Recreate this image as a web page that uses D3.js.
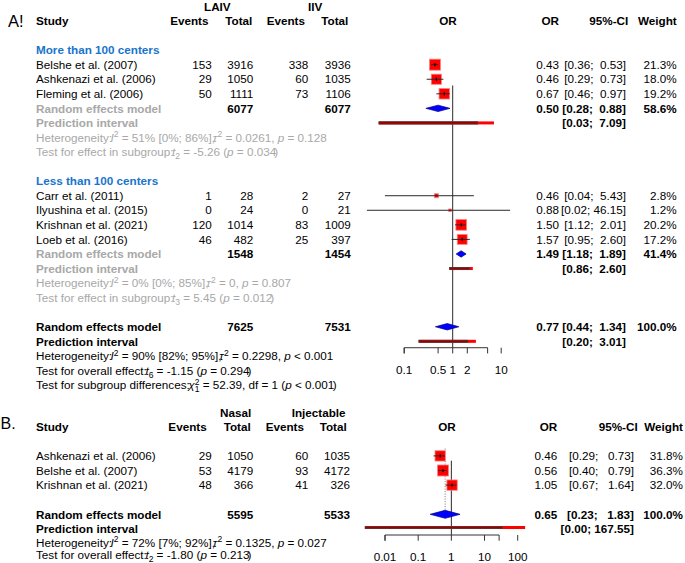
<!DOCTYPE html>
<html><head><meta charset="utf-8">
<script src="https://cdn.jsdelivr.net/npm/d3@7"></script>
<style>
html,body{margin:0;padding:0;background:#fff;}
svg text{font-family:'Liberation Sans',Arial,Helvetica,sans-serif;white-space:pre;}
</style>
</head><body>
<svg id="chart" width="685" height="563"></svg>
<script>
// ---------- Panel A data ----------
const studiesA = ["Belshe et al. (2007)", "Ashkenazi et al. (2006)", "Fleming et al. (2006)",
                  "Carr et al. (2011)", "Ilyushina et al. (2015)", "Krishnan et al. (2021)", "Loeb et al. (2016)"];
const groupOfA = [0, 0, 0, 1, 1, 1, 1];
const evLaiv  = [153, 29, 50, 1, 0, 120, 46];
const totLaiv = [3916, 1050, 1111, 28, 24, 1014, 482];
const evIiv   = [338, 60, 73, 2, 0, 83, 25];
const totIiv  = [3936, 1035, 1106, 27, 21, 1009, 397];
const orA = [0.43, 0.46, 0.67, 0.46, 0.88, 1.50, 1.57];
const loA = [0.36, 0.29, 0.46, 0.04, 0.017, 1.12, 0.95];
const hiA = [0.53, 0.73, 0.97, 5.43, 46.15, 2.01, 2.60];
const wA  = [21.3, 18.0, 19.2, 2.8, 1.2, 20.2, 17.2];

const subgroupNames = ["More than 100 centers", "Less than 100 centers"];
const subTotLaiv = [6077, 1548];
const subTotIiv  = [6077, 1454];
const subOR = [0.50, 1.49];
const subLo = [0.28, 1.18];
const subHi = [0.88, 1.89];
const subW  = [58.6, 41.4];
const subPiLo = [0.03, 0.86];
const subPiHi = [7.09, 2.60];
const subI2   = ["51%", "0%"];
const subI2ci = ["[0%; 86%]", "[0%; 85%]"];
const subTau2 = ["0.0261", "0"];
const subHetP = ["= 0.128", "= 0.807"];
const subTdf  = ["2", "3"];
const subT    = ["-5.26", "5.45"];
const subTp   = ["0.034", "0.012"];

const allTotLaiv = 7625, allTotIiv = 7531;
const allOR = [0.77, 0.44, 1.34], allW = 100.0;
const allPI = [0.20, 3.01];
const allHet = ["90%", "[82%; 95%]", "0.2298", "< 0.001"];
const allTest = ["6", "-1.15", "0.294"];
const subDiff = ["52.39", "1", "< 0.001"];
const ticksA = [0.1, 0.5, 1, 2, 10];
const tickLabelsA = ["0.1", "0.5", "1", "2", "10"];

// ---------- Panel B data ----------
const studiesB = ["Ashkenazi et al. (2006)", "Belshe et al. (2007)", "Krishnan et al. (2021)"];
const evNasal  = [29, 53, 48];
const totNasal = [1050, 4179, 366];
const evInj    = [60, 93, 41];
const totInj   = [1035, 4172, 326];
const orB = [0.46, 0.56, 1.05];
const loB = [0.29, 0.40, 0.67];
const hiB = [0.73, 0.79, 1.64];
const wB  = [31.8, 36.3, 32.0];
const bTotNasal = 5595, bTotInj = 5533;
const bOR = [0.65, 0.23, 1.83], bW = 100.0;
const bPI = [0.0025, 167.55];
const bHet = ["72%", "[7%; 92%]", "0.1325", "= 0.027"];
const bTest = ["2", "-1.80", "0.213"];
const ticksB = [0.01, 0.1, 1, 10, 100];
const tickLabelsB = ["0.01", "0.1", "1", "10", "100"];
const TAU = "\u03C4";

// ---------- drawing ----------
const svg = d3.select("#chart");
svg.append("rect").attr("width", 685).attr("height", 563).attr("fill", "#fff");
const FS = 11.7, BASE = 4.2, SHRINK = 0.86;
const GRAY = "#a8a8a8", BLUE = "#1874cd", LINE = "#2a2a2a";

function txt(g, x, y, s, o = {}) {
  return g.append("text").attr("x", x).attr("y", y + BASE).text(s)
    .attr("text-anchor", o.anchor || "start").attr("fill", o.fill || "#000")
    .style("font-size", (o.size || FS) + "px").style("font-weight", o.bold ? "bold" : "normal");
}
// each part becomes its own text, placed after the previous one's measured width
function math(g, x, y, parts, fill) {
  let cx = x;
  parts.forEach(p => {
    const [s, kind, dx] = p;
    const shift = kind === "sup" ? -4.5 : kind === "sub" ? 3 : 0;
    cx += dx || 0;
    const t = g.append("text").attr("x", cx).attr("y", y + BASE + shift).attr("fill", fill)
      .style("font-size", (kind === "sup" || kind === "sub") ? "8.5px" : FS + "px").text(s);
    if (kind === "i") t.style("font-style", "italic");
    const w = t.node().getComputedTextLength();
    cx += (w > 0 ? w : s.length * 6);
  });
}
const f2 = v => v.toFixed(2);
const ciStr = (lo, hi, pad) => "[" + f2(lo) + "; " + f2(hi).padStart(pad) + "]";
const hetParts = (i2, ci, tau, p) => [["Heterogeneity:"], ["I", "i", -1.5], ["2", "sup"],
  [" = " + i2 + " " + ci + ","], [TAU, "i", -2.2], ["2", "sup", 0.3], [" = " + tau + ", "], ["p", "i"], [" " + p]];

function drawStudy(g, x, y, or, lo, hi, w, maxW) {
  const side = 11 * Math.sqrt(w / maxW);
  const x1 = x(lo), x2 = x1 + SHRINK * (x(hi) - x1);
  g.append("rect").attr("x", x(or) - side / 2).attr("y", y - side / 2)
    .attr("width", side).attr("height", side).attr("fill", "#ff0000")
    .attr("stroke", "#ff8080").attr("stroke-width", 0.8);
  g.append("line").attr("x1", x1).attr("x2", x2).attr("y1", y).attr("y2", y)
    .attr("stroke", LINE).attr("stroke-width", 1);
  if (side > 6) g.append("line").attr("x1", x(or)).attr("x2", x(or))
    .attr("y1", y - 1.6).attr("y2", y + 1.6).attr("stroke", "#000").attr("stroke-width", 1);
}
function drawDiamond(g, x, y, or, lo, hi, h) {
  g.append("polygon")
    .attr("points", [[x(lo), y], [x(or), y - h], [x(hi), y], [x(or), y + h]].map(p => p.join(",")).join(" "))
    .attr("fill", "#0000ff").attr("stroke", "#000080").attr("stroke-width", 0.7);
}
function drawPI(g, x, y, lo, hi) {
  const a = x(lo), b = x(hi);
  g.append("rect").attr("x", a).attr("y", y - 1.5).attr("width", b - a).attr("height", 3).attr("fill", "#ff0000");
  g.append("rect").attr("x", a).attr("y", y - 1.2).attr("width", SHRINK * (b - a)).attr("height", 2.4)
    .attr("fill", "#9a0000").attr("stroke", "#444").attr("stroke-width", 0.6);
}
function drawAxis(g, x, y, ticks, labels, labelY) {
  const d = ticks[0], e = ticks[ticks.length - 1];
  const x0 = x(d), xe = x0 + SHRINK * (x(e) - x0);
  g.append("path").attr("d", `M${x0},${y + 5.7}V${y}H${xe}V${y + 5.7}`)
    .attr("fill", "none").attr("stroke", "#333").attr("stroke-width", 1);
  ticks.forEach((t, i) => {
    g.append("line").attr("x1", x(t)).attr("x2", x(t)).attr("y1", y).attr("y2", y + 5.7)
      .attr("stroke", "#333").attr("stroke-width", 1);
    txt(g, x(t), labelY, labels[i], { anchor: "middle" });
  });
}
function refLine(g, xpos, yTop, yAxis) {
  g.append("line").attr("x1", xpos).attr("x2", xpos).attr("y1", yAxis)
    .attr("y2", yAxis - SHRINK * (yAxis - yTop)).attr("stroke", LINE).attr("stroke-width", 1);
}

// ===== Panel A =====
const gA = svg.append("g");
const yA = k => 21 + 14.56 * k;
const xA = d3.scaleLog().domain([0.1, 10]).range([404.2, 501.2]);
const maxWA = d3.max(wA);
const colA = { name: 36, ev1: 211.7, tot1: 253.3, ev2: 308.3, tot2: 350.7, or: 559, ci: 626, w: 676.7 };

txt(gA, 8, 26.7 - BASE, "A!", { size: 16.5 });
txt(gA, 204, 10.5 - BASE, "LAIV", { bold: true });
txt(gA, 308, 10.5 - BASE, "IIV", { bold: true });
txt(gA, 36, yA(0), "Study", { bold: true });
txt(gA, 208.5, yA(0), "Events", { bold: true, anchor: "end" });
txt(gA, 252.3, yA(0), "Total", { bold: true, anchor: "end" });
txt(gA, 305, yA(0), "Events", { bold: true, anchor: "end" });
txt(gA, 348.3, yA(0), "Total", { bold: true, anchor: "end" });
txt(gA, 448, yA(0), "OR", { bold: true, anchor: "middle" });
txt(gA, 559, yA(0), "OR", { bold: true, anchor: "end" });
txt(gA, 628.3, yA(0), "95%-CI", { bold: true, anchor: "end" });
txt(gA, 676.7, yA(0), "Weight", { bold: true, anchor: "end" });

const axisYA = yA(22) + 6.4;
refLine(gA, xA(1), yA(1.5), axisYA);

subgroupNames.forEach((nm, g) => {
  const base = 2 + 9 * g;
  txt(gA, colA.name, yA(base), nm, { bold: true, fill: BLUE });
  const idx = studiesA.map((s, i) => i).filter(i => groupOfA[i] === g);
  idx.forEach((i, j) => {
    const y = yA(base + 1 + j);
    txt(gA, colA.name, y, studiesA[i]);
    txt(gA, colA.ev1, y, String(evLaiv[i]), { anchor: "end" });
    txt(gA, colA.tot1, y, String(totLaiv[i]), { anchor: "end" });
    txt(gA, colA.ev2, y, String(evIiv[i]), { anchor: "end" });
    txt(gA, colA.tot2, y, String(totIiv[i]), { anchor: "end" });
    txt(gA, colA.or, y, f2(orA[i]), { anchor: "end" });
    txt(gA, colA.ci, y, ciStr(loA[i], hiA[i], 5), { anchor: "end" });
    txt(gA, colA.w, y, wA[i].toFixed(1) + "%", { anchor: "end" });
    drawStudy(gA, xA, y, orA[i], loA[i], hiA[i], wA[i], maxWA);
  });
  const kr = base + idx.length + 1;
  let y = yA(kr);
  txt(gA, colA.name, y, "Random effects model", { bold: true, fill: GRAY });
  txt(gA, colA.tot1, y, String(subTotLaiv[g]), { bold: true, anchor: "end" });
  txt(gA, colA.tot2, y, String(subTotIiv[g]), { bold: true, anchor: "end" });
  txt(gA, colA.or, y, f2(subOR[g]), { bold: true, anchor: "end" });
  txt(gA, colA.ci, y, ciStr(subLo[g], subHi[g], 5), { bold: true, anchor: "end" });
  txt(gA, colA.w, y, subW[g].toFixed(1) + "%", { bold: true, anchor: "end" });
  drawDiamond(gA, xA, y, subOR[g], subLo[g], subHi[g], 3.2);
  y = yA(kr + 1);
  txt(gA, colA.name, y, "Prediction interval", { bold: true, fill: GRAY });
  txt(gA, colA.ci, y, ciStr(subPiLo[g], subPiHi[g], 5), { bold: true, anchor: "end" });
  drawPI(gA, xA, y, subPiLo[g], subPiHi[g]);
  math(gA, colA.name, yA(kr + 2), hetParts(subI2[g], subI2ci[g], subTau2[g], subHetP[g]), GRAY);
  math(gA, colA.name, yA(kr + 3), [["Test for effect in subgroup:"], ["t", "i", -1.5], [subTdf[g], "sub"],
    [" = " + subT[g] + " ("], ["p", "i"], [" = " + subTp[g]], [")", "n", -2]], GRAY);
});

// overall
let yo = yA(21);
txt(gA, colA.name, yo, "Random effects model", { bold: true });
txt(gA, colA.tot1, yo, String(allTotLaiv), { bold: true, anchor: "end" });
txt(gA, colA.tot2, yo, String(allTotIiv), { bold: true, anchor: "end" });
txt(gA, colA.or, yo, f2(allOR[0]), { bold: true, anchor: "end" });
txt(gA, colA.ci, yo, ciStr(allOR[1], allOR[2], 5), { bold: true, anchor: "end" });
txt(gA, colA.w, yo, allW.toFixed(1) + "%", { bold: true, anchor: "end" });
drawDiamond(gA, xA, yo, allOR[0], allOR[1], allOR[2], 3.2);
yo = yA(22);
txt(gA, colA.name, yo, "Prediction interval", { bold: true });
txt(gA, colA.ci, yo, ciStr(allPI[0], allPI[1], 5), { bold: true, anchor: "end" });
drawPI(gA, xA, yo, allPI[0], allPI[1]);
math(gA, colA.name, yA(23), hetParts(allHet[0], allHet[1], allHet[2], allHet[3]), "#000");
math(gA, colA.name, yA(24), [["Test for overall effect:"], ["t", "i", -1.5], [allTest[0], "sub"],
  [" = " + allTest[1] + " ("], ["p", "i"], [" = " + allTest[2]], [")", "n", -2]], "#000");
math(gA, colA.name, yA(25), [["Test for subgroup differences:"], ["χ", "i", -1.5], ["2", "sup"], [subDiff[1], "sub", -4.7],
  [" = " + subDiff[0] + ", df = " + subDiff[1] + " ("], ["p", "i"], [" " + subDiff[2]], [")", "n", -1.5]], "#000");
drawAxis(gA, xA, axisYA, ticksA, tickLabelsA, yA(24) - 0.4);

// ===== Panel B =====
const gB = svg.append("g");
const yB = k => 426.7 + 14.6 * k;
const xB = d3.scaleLog().domain([0.01, 100]).range([385, 517.7]);
const maxWB = d3.max(wB);
const colB = { name: 36, ev1: 211.7, tot1: 253.3, ev2: 308.3, tot2: 350, or: 557.3, ci: 634, w: 683 };

txt(gB, 0.5, 429 - BASE, "B.", { size: 16 });
txt(gB, 220, 416.7 - BASE, "Nasal", { bold: true });
txt(gB, 291.7, 416.7 - BASE, "Injectable", { bold: true });
txt(gB, 36, yB(0), "Study", { bold: true });
txt(gB, 206.7, yB(0), "Events", { bold: true, anchor: "end" });
txt(gB, 250.7, yB(0), "Total", { bold: true, anchor: "end" });
txt(gB, 304, yB(0), "Events", { bold: true, anchor: "end" });
txt(gB, 346.7, yB(0), "Total", { bold: true, anchor: "end" });
txt(gB, 447, yB(0), "OR", { bold: true, anchor: "middle" });
txt(gB, 557.3, yB(0), "OR", { bold: true, anchor: "end" });
txt(gB, 637.7, yB(0), "95%-CI", { bold: true, anchor: "end" });
txt(gB, 683, yB(0), "Weight", { bold: true, anchor: "end" });

const axisYB = yB(7) + 6.1;
refLine(gB, xB(1), yB(1.5), axisYB);
gB.append("line").attr("x1", xB(bOR[0])).attr("x2", xB(bOR[0])).attr("y1", yB(1.5)).attr("y2", yB(6))
  .attr("stroke", "#555").attr("stroke-width", 0.8).attr("stroke-dasharray", "1,1.5");

studiesB.forEach((s, i) => {
  const y = yB(2 + i);
  txt(gB, colB.name, y, s);
  txt(gB, colB.ev1, y, String(evNasal[i]), { anchor: "end" });
  txt(gB, colB.tot1, y, String(totNasal[i]), { anchor: "end" });
  txt(gB, colB.ev2, y, String(evInj[i]), { anchor: "end" });
  txt(gB, colB.tot2, y, String(totInj[i]), { anchor: "end" });
  txt(gB, colB.or, y, f2(orB[i]), { anchor: "end" });
  txt(gB, colB.ci, y, ciStr(loB[i], hiB[i], 6), { anchor: "end" });
  txt(gB, colB.w, y, wB[i].toFixed(1) + "%", { anchor: "end" });
  drawStudy(gB, xB, y, orB[i], loB[i], hiB[i], wB[i], maxWB);
});
let yb = yB(6);
txt(gB, colB.name, yb, "Random effects model", { bold: true });
txt(gB, colB.tot1, yb, String(bTotNasal), { bold: true, anchor: "end" });
txt(gB, colB.tot2, yb, String(bTotInj), { bold: true, anchor: "end" });
txt(gB, colB.or, yb, f2(bOR[0]), { bold: true, anchor: "end" });
txt(gB, colB.ci, yb, ciStr(bOR[1], bOR[2], 6), { bold: true, anchor: "end" });
txt(gB, colB.w, yb, bW.toFixed(1) + "%", { bold: true, anchor: "end" });
drawDiamond(gB, xB, yb, bOR[0], bOR[1], bOR[2], 4);
yb = yB(7);
txt(gB, colB.name, yb, "Prediction interval", { bold: true });
txt(gB, colB.ci, yb, ciStr(bPI[0], bPI[1], 6), { bold: true, anchor: "end" });
drawPI(gB, xB, yb - 1.4, bPI[0], bPI[1]);
math(gB, colB.name, yB(8) - 0.8, hetParts(bHet[0], bHet[1], bHet[2], bHet[3]), "#000");
math(gB, colB.name, yB(9) - 3, [["Test for overall effect:"], ["t", "i", -1.5], [bTest[0], "sub"],
  [" = " + bTest[1] + " ("], ["p", "i"], [" = " + bTest[2]], [")", "n", -2]], "#000");
drawAxis(gB, xB, axisYB, ticksB, tickLabelsB, yB(9) - 1.5);
</script>
</body></html>
